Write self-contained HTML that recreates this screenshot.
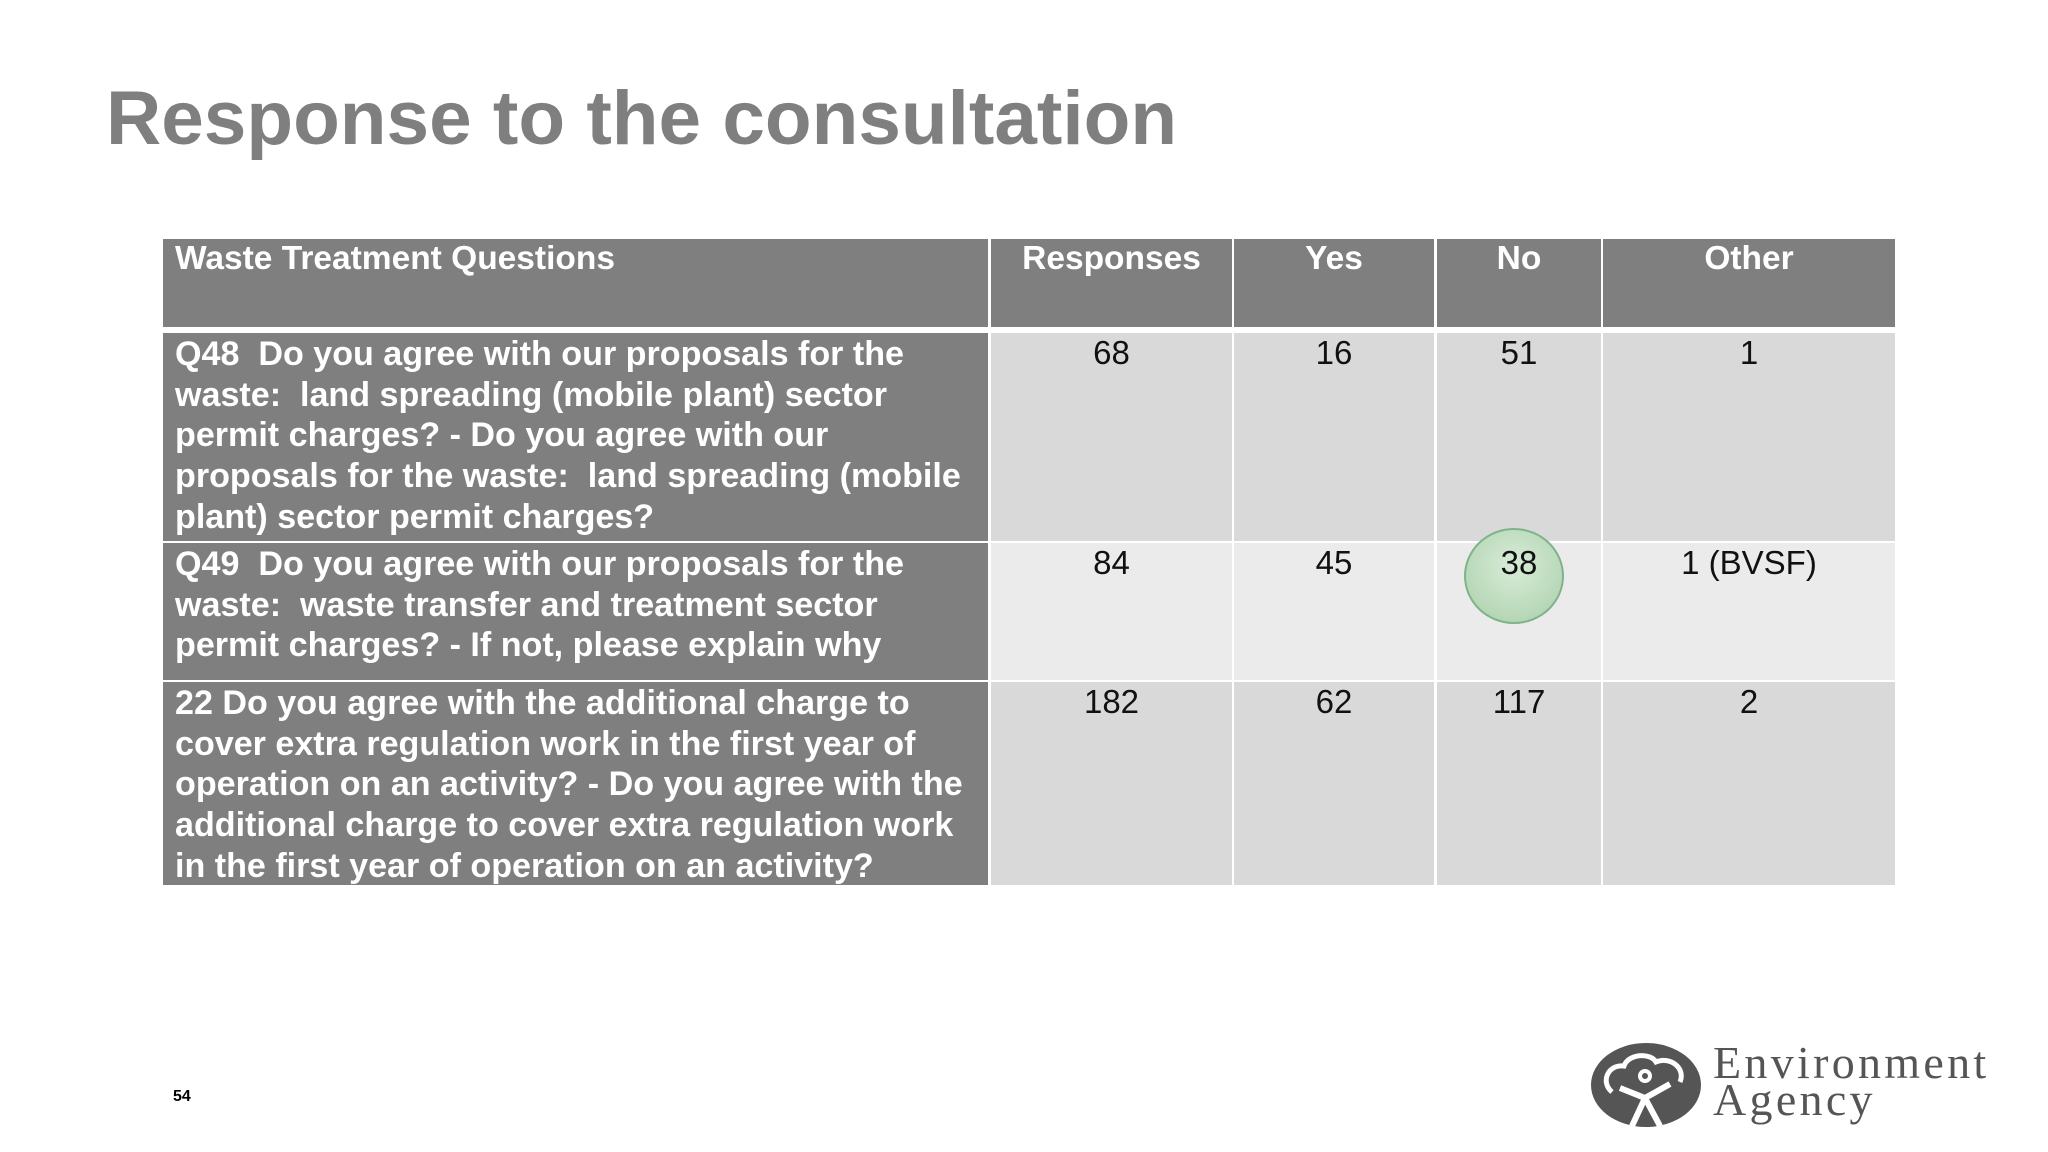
<!DOCTYPE html>
<html><head><meta charset="utf-8"><style>
body{margin:0;width:2048px;height:1152px;background:#fff;position:relative;overflow:hidden;font-family:"Liberation Sans",Arial,sans-serif}
.t{position:absolute}
.c{position:absolute;box-sizing:border-box}
.h{background:#7f7f7f;color:#fff;font-weight:bold;font-size:33.5px}
.q{background:#7f7f7f;color:#fff;font-weight:bold;font-size:34.1px;line-height:40.7px;padding:1px 0 0 12px;white-space:nowrap;overflow:hidden}
.v{color:#111;font-size:33px;text-align:center;padding-top:0;line-height:40px}
.l1{background:#d9d9d9}.l2{background:#ebebeb}
</style></head><body>
<div class="t" style="left:106px;top:75px;font-size:76.5px;font-weight:bold;color:#7f7f7f">Response to the consultation</div>

<div class="c h" style="left:163px;top:239px;width:825px;height:88px;padding:0 0 0 12px;line-height:40px">Waste Treatment Questions</div>
<div class="c h" style="left:991px;top:239px;width:241px;height:88px;text-align:center;line-height:40px">Responses</div>
<div class="c h" style="left:1234px;top:239px;width:200px;height:88px;text-align:center;line-height:40px">Yes</div>
<div class="c h" style="left:1437px;top:239px;width:164px;height:88px;text-align:center;line-height:40px">No</div>
<div class="c h" style="left:1603px;top:239px;width:292px;height:88px;text-align:center;line-height:40px">Other</div>

<div class="c q" style="left:163px;top:333px;width:825px;height:208px">Q48&nbsp; Do you agree with our proposals for the<br>waste:&nbsp; land spreading (mobile plant) sector<br>permit charges? - Do you agree with our<br>proposals for the waste:&nbsp; land spreading (mobile<br>plant) sector permit charges?</div>
<div class="c v l1" style="left:991px;top:333px;width:241px;height:208px">68</div>
<div class="c v l1" style="left:1234px;top:333px;width:200px;height:208px">16</div>
<div class="c v l1" style="left:1437px;top:333px;width:164px;height:208px">51</div>
<div class="c v l1" style="left:1603px;top:333px;width:292px;height:208px">1</div>

<div class="c q" style="left:163px;top:543px;width:825px;height:137px">Q49&nbsp; Do you agree with our proposals for the<br>waste:&nbsp; waste transfer and treatment sector<br>permit charges? - If not, please explain why</div>
<div class="c v l2" style="left:991px;top:543px;width:241px;height:137px">84</div>
<div class="c v l2" style="left:1234px;top:543px;width:200px;height:137px">45</div>
<div class="c v l2" style="left:1437px;top:543px;width:164px;height:137px"></div>
<div class="t" style="left:1464px;top:528px;width:100px;height:96px;border-radius:50%;background:radial-gradient(circle at 50% 40%,#d8ecd8,#a9cfa9);border:2px solid #7fb38a;box-sizing:border-box"></div>
<div class="t" style="left:1437px;top:543px;width:164px;text-align:center;font-size:33px;line-height:40px;color:#111">38</div>
<div class="c v l2" style="left:1603px;top:543px;width:292px;height:137px">1 (BVSF)</div>

<div class="c q" style="left:163px;top:682px;width:825px;height:203px">22 Do you agree with the additional charge to<br>cover extra regulation work in the first year of<br>operation on an activity? - Do you agree with the<br>additional charge to cover extra regulation work<br>in the first year of operation on an activity?</div>
<div class="c v l1" style="left:991px;top:682px;width:241px;height:203px">182</div>
<div class="c v l1" style="left:1234px;top:682px;width:200px;height:203px">62</div>
<div class="c v l1" style="left:1437px;top:682px;width:164px;height:203px">117</div>
<div class="c v l1" style="left:1603px;top:682px;width:292px;height:203px">2</div>

<div class="t" style="left:173px;top:1088px;font-size:16px;font-weight:bold;color:#000">54</div>

<svg class="t" style="left:1590px;top:1042px" width="112" height="86" viewBox="0 0 112 86">
<ellipse cx="56" cy="43" rx="55" ry="42" fill="#555"/>
<path d="M22 50 C10 40 18 22 34 24 C38 12 60 10 66 20 C80 14 96 26 90 40" fill="none" stroke="#fff" stroke-width="5"/>
<circle cx="55" cy="34" r="5" fill="none" stroke="#fff" stroke-width="4"/>
<path d="M30 46 L55 56 L80 42 M55 56 L42 84 M55 56 L70 84" fill="none" stroke="#fff" stroke-width="6"/>
</svg>
<div class="t" style="left:1713px;top:1044px;font-family:'Liberation Serif',serif;font-size:46px;letter-spacing:3.3px;line-height:37px;color:#555">Environment<br>Agency</div>
</body></html>
